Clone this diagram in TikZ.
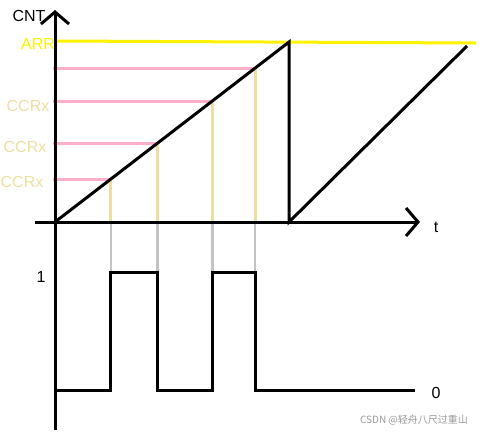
\documentclass[tikz,border=0pt]{standalone}
\usepackage{fontspec}
\setmainfont{Liberation Sans}
\newfontfamily\cjkfont{Noto Sans CJK SC}
\usetikzlibrary{calc,arrows.meta}
\definecolor{arryellow}{RGB}{255,242,0}
\definecolor{ccrpink}{RGB}{255,174,201}
\definecolor{ccrtan}{RGB}{236,222,160}
\definecolor{edgegray}{RGB}{195,195,195}

\begin{document}
\begin{tikzpicture}[
        x=1pt, y=-1pt,
        axis/.style={line width=3pt, -{Straight Barb[length=12pt, width=28pt]}},
        wave/.style={line width=3pt, line join=miter},
        arrline/.style={line width=3pt, arryellow},
        cmpline/.style={line width=3pt, ccrpink},
        dropline/.style={line width=3pt, ccrtan},
        edgeline/.style={line width=2.5pt, edgegray},
        label/.style={font=\fontsize{16}{19}\selectfont, inner sep=0pt}
    ]
    \useasboundingbox (0,0) rectangle (486,437);

    % Key points of the counter plot
    \coordinate (origin) at (55,222);
    \coordinate (ytop) at (55,10);
    \coordinate (ybot) at (55,430);
    \coordinate (xstart) at (35,222);
    \coordinate (xend) at (420,222);
    \coordinate (peak) at (289,42);
    \coordinate (reset) at (289,222);
    \coordinate (rampend) at (467,46);
    \coordinate (arrstart) at (55,41);
    \coordinate (arrend) at (476,43);

    % PWM levels
    \coordinate (lo) at (55,390);
    \coordinate (hi) at (55,272);
    \coordinate (pwmend) at (415,390);

    % ARR line
    \draw[arrline] (arrstart) -- (arrend);

    % Compare points on the ramp
    \foreach \lev [count=\i] in {179,143,101,68} {
        \pgfmathsetmacro\f{(222-\lev)/180}
        \coordinate (cmp\i) at ($(origin)!\f!(peak)$);
        \draw[cmpline] ([xshift=-2pt]origin |- cmp\i) -- (cmp\i);
        \draw[dropline] (cmp\i) -- (cmp\i |- origin);
        \draw[edgeline] (cmp\i |- origin) -- (cmp\i |- hi);
    }

    % Axes
    \draw[axis] (ybot) -- (ytop);
    \draw[axis] (xstart) -- (xend);

    % Counter ramp
    \draw[wave] (origin) -- (peak) -- (reset) -- (rampend);

    % PWM output
    \draw[wave] (lo) -- (cmp1 |- lo) -- (cmp1 |- hi) -- (cmp2 |- hi)
        -- (cmp2 |- lo) -- (cmp3 |- lo) -- (cmp3 |- hi) -- (cmp4 |- hi)
        -- (cmp4 |- lo) -- (pwmend);

    % Labels
    \node[label] (cnt) at (29,16) {CNT};
    \node[label, text=arryellow] (arr) at (38,44) {ARR};
    \node[label, text=ccrtan] (ccr3) at (28,106) {CCRx};
    \node[label, text=ccrtan] (ccr2) at (25,147) {CCRx};
    \node[label, text=ccrtan] (ccr1) at (22,182) {CCRx};
    \node[label] (tlab) at (436,227) {t};
    \node[label] (high) at (41,277) {1};
    \node[label] (low) at (436,393) {0};
    \node[font=\cjkfont\fontsize{10}{12}\selectfont, text=gray!80, inner sep=0pt] (mark) at (414,420) {CSDN @轻舟八尺过重山};
\end{tikzpicture}
\end{document}
